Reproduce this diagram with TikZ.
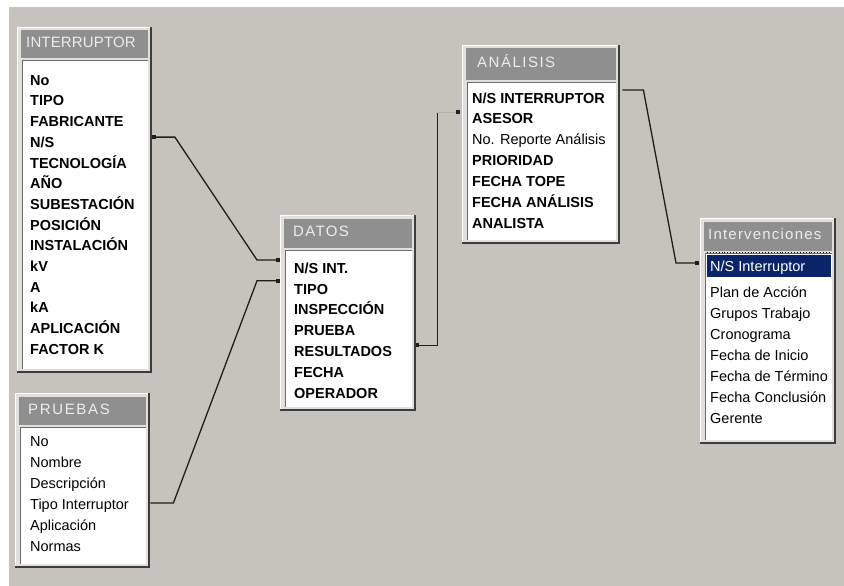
\documentclass[tikz,border=0pt]{standalone}
\usepackage{fontspec}
\setmainfont{Liberation Sans}
\newfontfamily\titlefont{Liberation Sans}
\usetikzlibrary{calc}
\definecolor{bggray}{HTML}{C6C3BC}
\definecolor{panel}{HTML}{E2E0DC}
\definecolor{titlegray}{HTML}{8F8F8F}
\definecolor{titletext}{HTML}{EDEDED}
\definecolor{shadowc}{HTML}{3C3C3C}
\definecolor{innerc}{HTML}{6A6A6A}
\definecolor{linec}{HTML}{1E1E1E}
\definecolor{faintc}{HTML}{B4B1AA}
\definecolor{selblue}{HTML}{0A246A}
\tikzset{
  row/.style={anchor=west, inner sep=0pt, text height=10.4pt, text depth=0pt,
    font=\fontsize{14.5}{17}\selectfont\bfseries},
  rowr/.style={anchor=west, inner sep=0pt, text height=10.4pt, text depth=0pt,
    font=\fontsize{14.5}{17}\selectfont},
  ttl/.style={anchor=west, inner sep=0pt, text height=10.8pt, text depth=0pt,
    text=titletext, font=\titlefont\fontsize{15}{18}\selectfont},
  tframe/.style={draw=none, fill=panel, inner sep=0pt, anchor=north west},
  rel/.style={draw=linec, line width=1.3pt},
  endmark/.style={fill=linec, minimum size=3.6pt, inner sep=0pt, draw=none},
}
% name, x1, y1, x2, y2, title bottom, title, title x, letter space
\newcommand\dbtable[9]{%
  \node[tframe, minimum width={(#4-#2)*1pt}, minimum height={(#5-#3)*1pt}] (#1) at (#2,#3) {};
  \draw[white, line width=1.2pt] ([shift={(0.6,0)}]#1.south west) -- ([shift={(0.6,0.6)}]#1.north west) -- ([shift={(0,0.6)}]#1.north east);
  \draw[shadowc, line width=2pt] ([shift={(-1,0)}]#1.north east) -- ([shift={(-1,-1)}]#1.south east) -- ([shift={(0,-1)}]#1.south west);
  \fill[titlegray] ({#2+4},{#3+3.5}) rectangle ({#4-4},#6);
  \fill[white] ({#2+5},{#6+2}) rectangle ({#4-4},{#5-4});
  \draw[innerc, line width=1.2pt] ({#2+5.6},{#5-4}) -- ({#2+5.6},{#6+2.6}) -- ({#4-4},{#6+2.6});
  \node[ttl] (#1-t) at (#8,{(#3+#6)/2}) {\addfontfeature{LetterSpace=#9}#7};
}
\begin{document}
\begin{tikzpicture}[x=1pt,y=-1pt]
\useasboundingbox (0,0) rectangle (844,586);
\fill[white] (0,0) rectangle (844,586);
\fill[bggray] (9,7) rectangle (844,586);

% INTERRUPTOR
\dbtable{tInt}{17}{27}{152}{373}{58}{INTERRUPTOR}{26}{1}
\foreach \t [count=\i from 0] in {No,TIPO,FABRICANTE,N/S,TECNOLOGÍA,AÑO,SUBESTACIÓN,POSICIÓN,INSTALACIÓN,kV,A,kA,APLICACIÓN,FACTOR K}
  \node[row] (int-\i) at (30,{80+20.7*\i}) {\t};

% PRUEBAS
\dbtable{tPru}{15}{393}{150}{568}{425}{PRUEBAS}{28}{11}
\foreach \t [count=\i from 0] in {No,Nombre,Descripción,Tipo Interruptor,Aplicación,Normas}
  \node[rowr] (pru-\i) at (30,{441+21*\i}) {\t};

% DATOS
\dbtable{tDat}{280}{215}{416}{411}{248}{DATOS}{293}{9}
\foreach \t [count=\i from 0] in {N/S INT.,TIPO,INSPECCIÓN,PRUEBA,RESULTADOS,FECHA,OPERADOR}
  \node[row] (dat-\i) at (294,{268+20.8*\i}) {\t};

% ANALISIS
\dbtable{tAna}{462}{45}{620}{244}{80}{ANÁLISIS}{477}{10}
\foreach \t [count=\i from 0] in {N/S INTERRUPTOR,ASESOR,{\mdseries No. Reporte Análisis},PRIORIDAD,FECHA TOPE,FECHA ANÁLISIS,ANALISTA}
  \node[row] (ana-\i) at (472,{98+20.8*\i}) {\t};

% Intervenciones
\dbtable{tItv}{700}{218}{836}{444}{251}{Intervenciones}{708}{8}
\draw[black, dotted, line width=0.9pt] (707,252.8) -- (831,252.8);
\fill[selblue] (707,255) rectangle (831,277);
\node[rowr, text=white] (itv-0) at (710,266) {N/S Interruptor};
\foreach \t [count=\i from 1] in {Plan de Acción,Grupos Trabajo,Cronograma,Fecha de Inicio,Fecha de Término,Fecha Conclusión,Gerente}
  \node[rowr] (itv-\i) at (710,{292+21*(\i-1)}) {\t};

% relationships
\coordinate (a1) at ($(tInt.east |- int-3)+(1.5,-5)$);
\coordinate (a2) at ($(tDat.west |- dat-0)+(-2,-8)$);
\draw[rel] (a1) -- ++(21,0) -- ($(a2)+(-21,0)$) -- (a2);
\node[endmark] (m1) at (a1) {};
\node[endmark] (m2) at (a2) {};

\coordinate (b1) at ($(tPru.east |- pru-3)+(0,-1)$);
\coordinate (b2) at ($(tDat.west |- dat-1)+(-2,-8)$);
\draw[rel] (b1) -- ++(23,0) -- ($(b2)+(-21,0)$) -- (b2);
\node[endmark] (m3) at (b2) {};

\coordinate (c1) at ($(tDat.east |- dat-4)+(1,-6)$);
\coordinate (c2) at ($(tAna.west |- ana-0)+(-4,14)$);
\draw[rel] (c1) -- ++(20,0) coordinate (c3) -- (c3 |- c2);
\draw[faintc, line width=1pt] (c3 |- c2) -- (c2);
\node[endmark] (m4) at (c1) {};
\node[endmark] (m5) at (c2) {};

\coordinate (d1) at ($(tAna.east |- ana-0)+(2,-8)$);
\coordinate (d2) at ($(tItv.west |- itv-0)+(-3,-3)$);
\draw[rel] (d1) -- ++(21,0) -- ($(d2)+(-21,0)$) -- (d2);
\node[endmark] (m6) at (d2) {};
\end{tikzpicture}
\end{document}
